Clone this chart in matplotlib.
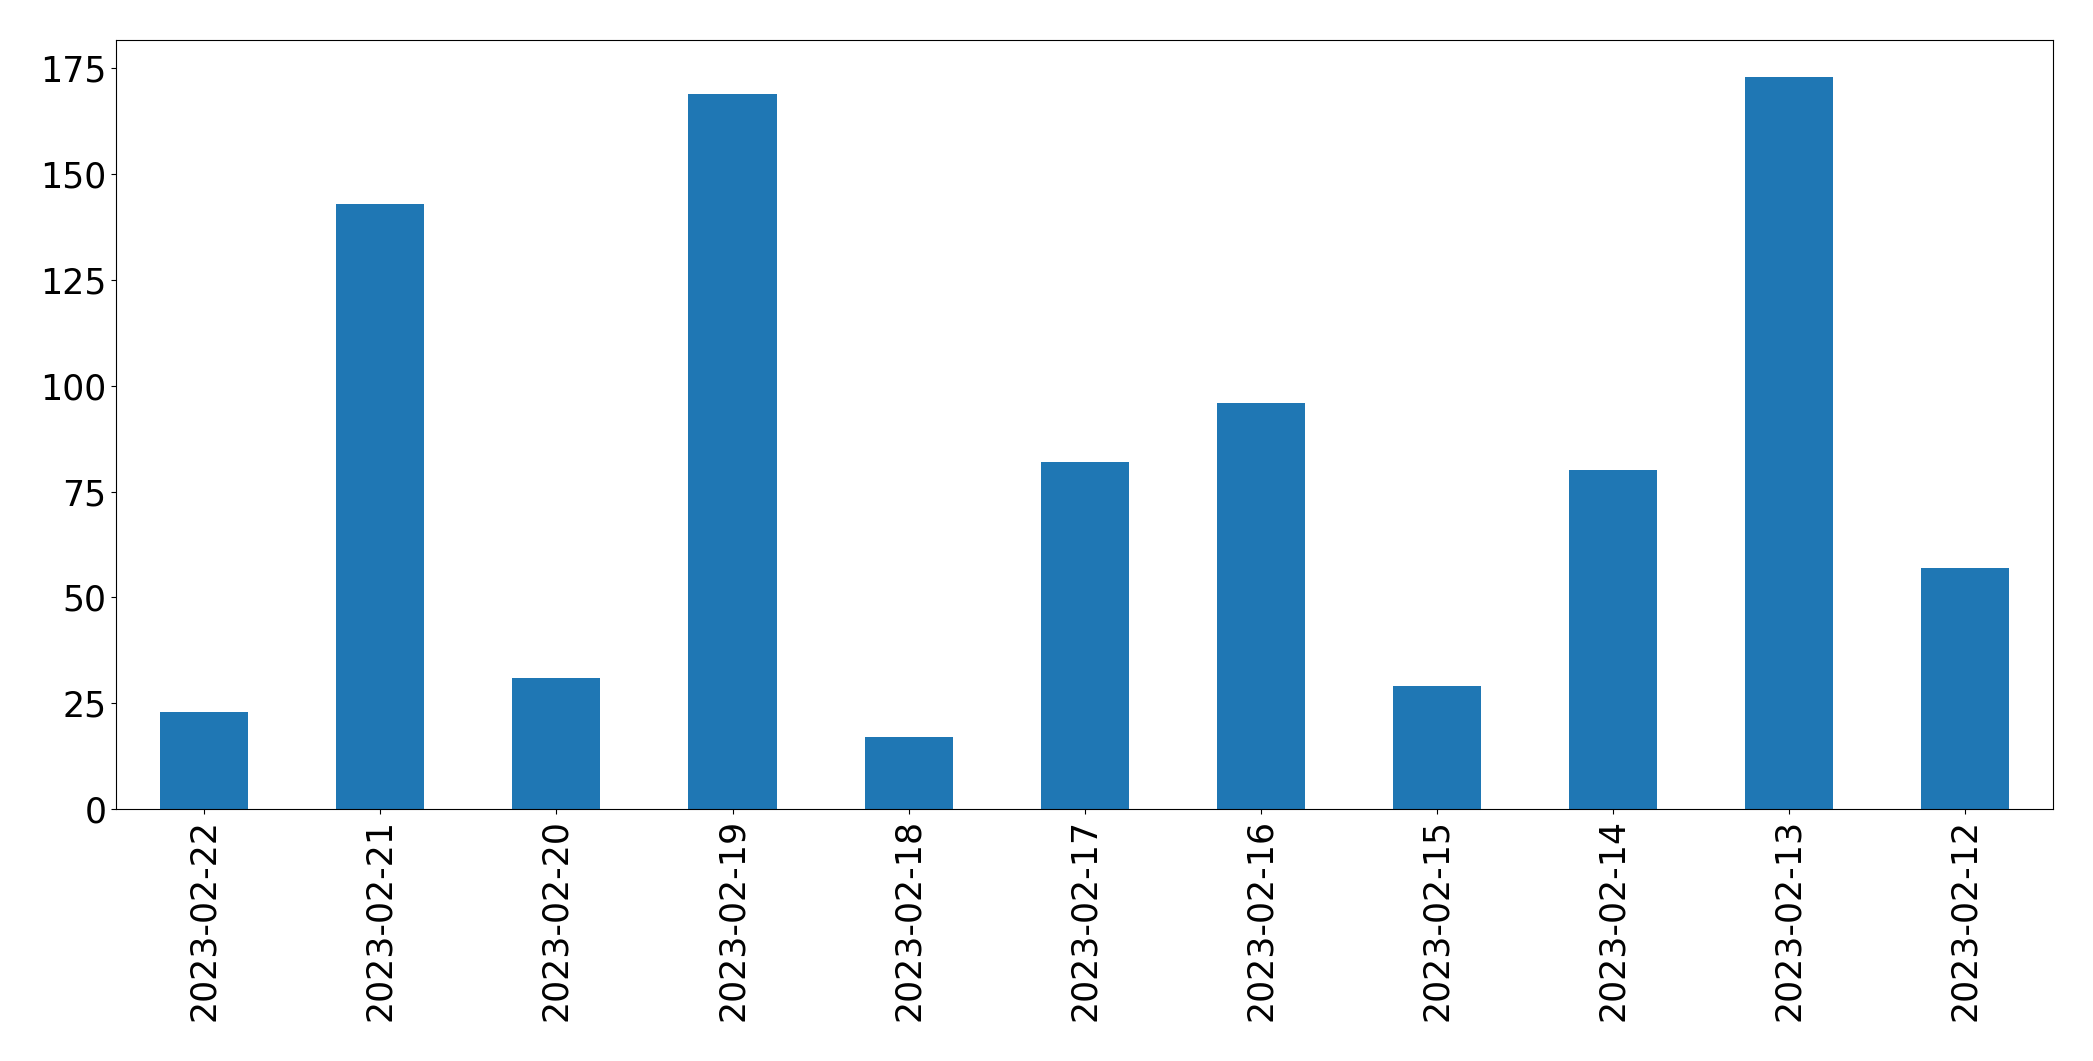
import matplotlib
matplotlib.use('Agg')
import matplotlib.pyplot as plt
import pandas as pd

dates = ['2023-02-22', '2023-02-21', '2023-02-20', '2023-02-19', '2023-02-18',
         '2023-02-17', '2023-02-16', '2023-02-15', '2023-02-14', '2023-02-13',
         '2023-02-12']
counts = [23, 143, 31, 169, 17, 82, 96, 29, 80, 173, 57]

s = pd.Series(counts, index=dates)

fig, ax = plt.subplots(figsize=(20.93, 10.61), dpi=100)
s.plot(kind='bar', ax=ax, color='#1f77b4', width=0.5)
ax.tick_params(axis='both', labelsize=25)
ax.set_xticklabels(dates, rotation=90)
plt.subplots_adjust(left=0.0555, right=0.981, top=0.962, bottom=0.2375)
plt.savefig('out.png', dpi=100)
